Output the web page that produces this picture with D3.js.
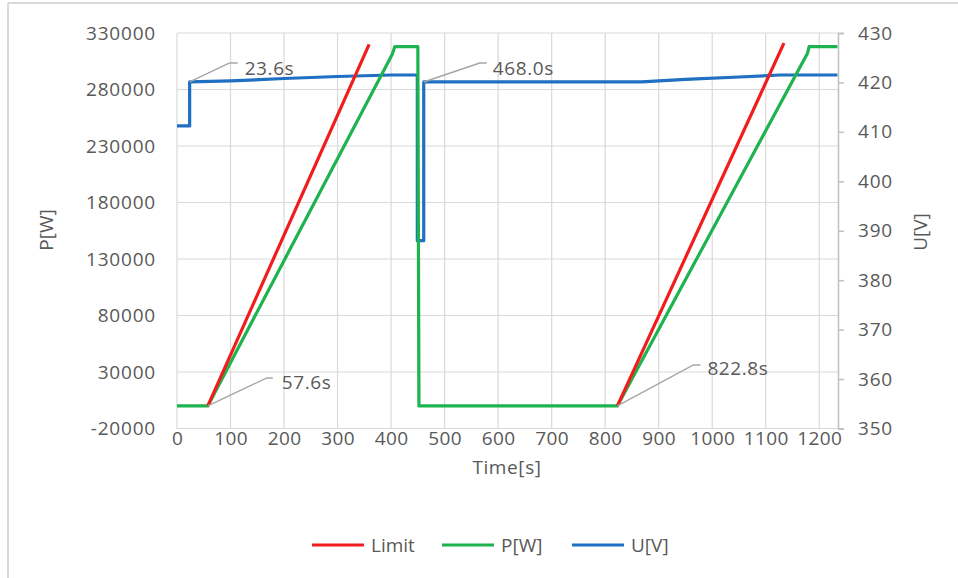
<!DOCTYPE html>
<html>
<head>
<meta charset="utf-8">
<script src="https://cdn.jsdelivr.net/npm/d3@7"></script>
<style>
  html, body { margin: 0; padding: 0; background: #ffffff; }
  svg { display: block; }
  text { font-family: "Open Sans", sans-serif; fill: #595959; }
</style>
</head>
<body>
<svg id="chart" width="958" height="578"></svg>
<script>
// ---------------- data ----------------
const xTicks = [0, 100, 200, 300, 400, 500, 600, 700, 800, 900, 1000, 1100, 1200];
const pTicks = [-20000, 30000, 80000, 130000, 180000, 230000, 280000, 330000];
const uTicks = [350, 360, 370, 380, 390, 400, 410, 420, 430];

const limitTime  = [57.6, 359, null, 822.8, 1134];
const limitPower = [0, 320000, null, 0, 321000];

const powerTime  = [0, 57.6, 402, 407, 450, 452, 822.8, 1178, 1181, 1234];
const powerValue = [0, 0, 311000, 318000, 318000, 0, 0, 312000, 318000, 318000];

const voltTime  = [0, 23.6, 23.6, 100, 200, 300, 400, 449, 449, 461, 461, 600, 868, 950, 1050, 1127, 1234];
const voltValue = [411.2, 411.2, 420.1, 420.3, 420.8, 421.2, 421.5, 421.5, 388, 388, 420.1, 420.1, 420.1, 420.6, 421.1, 421.5, 421.5];

const annoText  = ["23.6s", "468.0s", "57.6s", "822.8s"];
const annoTime  = [23.6, 461, 57.6, 822.8];
const annoValue = [420.1, 420.1, 0, 0];
const annoAxis  = ["U", "U", "P", "P"];

const seriesNames  = ["Limit", "P[W]", "U[V]"];
const seriesColors = ["#f21c1c", "#1db34f", "#1f6fc2"];

// ---------------- layout ----------------
const svg = d3.select("#chart");
const plotL = 177, plotR = 838, plotT = 33, plotB = 428.5;

const x  = d3.scaleLinear().domain([0, 1235]).range([plotL, plotR]);
const yP = d3.scaleLinear().domain([-20000, 330000]).range([plotB, plotT]);
const yU = d3.scaleLinear().domain([350, 430]).range([plotB, plotT]);

// outer frame
svg.append("line").attr("x1", 8).attr("x2", 8).attr("y1", 3).attr("y2", 578)
  .attr("stroke", "#d9d9d9").attr("stroke-width", 2);
svg.append("line").attr("x1", 8).attr("x2", 958).attr("y1", 3).attr("y2", 3)
  .attr("stroke", "#d9d9d9").attr("stroke-width", 2);

// gridlines
const grid = svg.append("g");
grid.selectAll("line.h").data(pTicks).join("line").attr("class", "h")
  .attr("x1", plotL).attr("x2", plotR)
  .attr("y1", d => yP(d)).attr("y2", d => yP(d))
  .attr("stroke", "#d9d9d9").attr("stroke-width", 1.2);
grid.selectAll("line.v").data(xTicks).join("line").attr("class", "v")
  .attr("x1", d => x(d)).attr("x2", d => x(d))
  .attr("y1", plotT).attr("y2", plotB)
  .attr("stroke", "#d9d9d9").attr("stroke-width", 1.2);

// left axis labels
const axisFont = 19;
const leftAxis = d3.axisLeft(yP).tickValues(pTicks).tickSize(0).tickPadding(21).tickFormat(d => String(d));
const gL = svg.append("g").attr("transform", `translate(${plotL},0)`).call(leftAxis);
gL.select(".domain").remove();
gL.selectAll("text").style("font-size", axisFont + "px").style("letter-spacing", "0.8px")
  .style("fill", "#595959").style("font-family", "Open Sans");

// bottom axis labels
const bottomAxis = d3.axisBottom(x).tickValues(xTicks).tickSize(0).tickPadding(0).tickFormat(d => String(d));
const gB = svg.append("g").attr("transform", `translate(0,${plotB})`).call(bottomAxis);
gB.select(".domain").remove();
gB.selectAll("text").attr("dy", null).attr("y", 9.5).attr("dominant-baseline", "central")
  .style("font-size", axisFont + "px")
  .style("letter-spacing", "0.4px").style("fill", "#595959").style("font-family", "Open Sans");

// right axis
const rightAxis = d3.axisRight(yU).tickValues(uTicks).tickSize(6).tickPadding(14);
const gR = svg.append("g").attr("transform", `translate(${plotR},0)`).call(rightAxis);
gR.select(".domain").attr("stroke", "#bfbfbf").attr("stroke-width", 1.5);
gR.selectAll(".tick line").attr("stroke", "#bfbfbf").attr("stroke-width", 1.5);
gR.selectAll("text").style("font-size", axisFont + "px").style("letter-spacing", "0.8px")
  .style("fill", "#595959").style("font-family", "Open Sans");

// axis titles
svg.append("text").attr("transform", `translate(53,230) rotate(-90)`)
  .attr("text-anchor", "middle").style("font-size", "19px").text("P[W]");
svg.append("text").attr("transform", `translate(927,232) rotate(-90)`)
  .attr("text-anchor", "middle").style("font-size", "19px").text("U[V]");
svg.append("text").attr("x", 507).attr("y", 467).attr("dominant-baseline", "central")
  .attr("text-anchor", "middle").style("font-size", "19px").style("letter-spacing", "0.6px").text("Time[s]");

// ---------------- series ----------------
const limitData = limitTime.map((t, i) => ({ t, v: limitPower[i] }));
const powerData = powerTime.map((t, i) => ({ t, v: powerValue[i] }));
const voltData  = voltTime.map((t, i) => ({ t, v: voltValue[i] }));

const lineP = d3.line().defined(d => d.t !== null && d.v !== null).x(d => x(d.t)).y(d => yP(d.v));
const lineU = d3.line().x(d => x(d.t)).y(d => yU(d.v));

svg.append("path").datum(voltData).attr("d", lineU)
  .attr("fill", "none").attr("stroke", seriesColors[2]).attr("stroke-width", 3.2).attr("stroke-linejoin", "round");
svg.append("path").datum(powerData).attr("d", lineP)
  .attr("fill", "none").attr("stroke", seriesColors[1]).attr("stroke-width", 3.2).attr("stroke-linejoin", "round");
svg.append("path").datum(limitData).attr("d", lineP)
  .attr("fill", "none").attr("stroke", seriesColors[0]).attr("stroke-width", 3.2).attr("stroke-linejoin", "round");

// ---------------- annotations ----------------
// leader offsets in pixels: [elbowDx, elbowDy, endDx, textDx, textDy]
const annoOffsets = [
  [40, -19, 48, 55, -14],
  [56, -19, 63, 69, -14],
  [59, -28, 65, 74, -24],
  [76, -41, 83, 90, -38]
];
const annos = svg.append("g");
annoText.forEach((label, i) => {
  const ax = x(annoTime[i]);
  const ay = annoAxis[i] === "U" ? yU(annoValue[i]) : yP(annoValue[i]);
  const o = annoOffsets[i];
  annos.append("path")
    .attr("d", `M${ax},${ay} L${ax + o[0]},${ay + o[1]} L${ax + o[2]},${ay + o[1]}`)
    .attr("fill", "none").attr("stroke", "#a6a6a6").attr("stroke-width", 1.5);
  annos.append("text").attr("x", ax + o[3]).attr("y", ay + o[4])
    .attr("dominant-baseline", "central")
    .style("font-size", "19px").style("letter-spacing", "0.6px").text(label);
});

// ---------------- legend ----------------
const legendX = [312, 442, 572];
const leg = svg.append("g");
seriesNames.forEach((name, i) => {
  leg.append("line").attr("x1", legendX[i]).attr("x2", legendX[i] + 52)
    .attr("y1", 545).attr("y2", 545)
    .attr("stroke", seriesColors[i]).attr("stroke-width", 3.2);
  leg.append("text").attr("x", legendX[i] + 59).attr("y", 545)
    .attr("dominant-baseline", "central").style("font-size", "19px").text(name);
});
</script>
</body>
</html>
